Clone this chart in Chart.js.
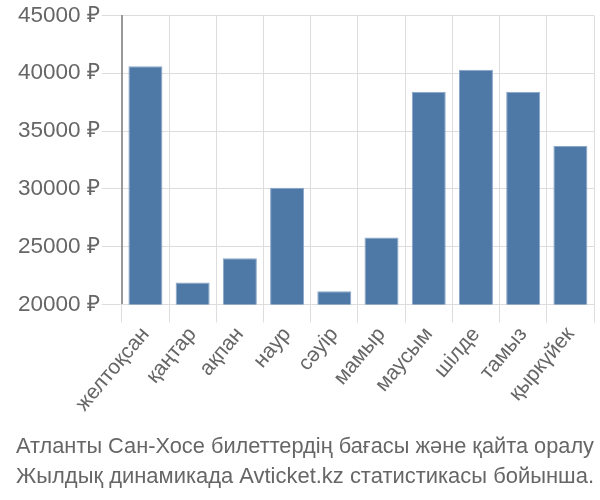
<!DOCTYPE html>
<html>
<head>
<meta charset="utf-8">
<script src="https://cdn.jsdelivr.net/npm/chart.js@4"></script>
<style>
  html, body { margin:0; padding:0; background:#fff; }
  #wrap { width:600px; height:500px; position:relative; }
</style>
</head>
<body>
<div id="wrap"><canvas id="chart"></canvas></div>
<script>
// months (Kazakh)
const months = ['желтоқсан','қаңтар','ақпан','наур','сәуір','мамыр','маусым','шілде','тамыз','қыркүйек'];
// prices in ₽
const prices = [40600, 21900, 24000, 30100, 21150, 25800, 38400, 40300, 38400, 33700];
const titleLines = [
    'Атланты Сан-Хосе билеттердің бағасы және қайта оралу',
    'Жылдық динамикада Avticket.kz статистикасы бойынша.'
];

const fontFamily = '"Liberation Sans", Arial, sans-serif';
const textColor = '#666';
const gridColor = '#ddd';

new Chart(document.getElementById('chart'), {
    type:'bar',
    data:{
        labels: months,
        datasets:[{
            data: prices,
            backgroundColor:'#4e79a7',
            borderColor:'#8aa6c8',
            borderWidth:{top:1, left:1, right:1, bottom:0},
            categoryPercentage:0.9,
            barPercentage:0.8
        }]
    },
    options:{
        responsive:true,
        maintainAspectRatio:false,
        animation:false,
        layout:{ padding:{ top:6, right:6, left:16, bottom:0 } },
        scales:{
            y:{
                min:20000,
                max:45000,
                ticks:{
                    stepSize:5000,
                    color:textColor,
                    font:{ family:fontFamily, size:22.5 },
                    padding:2,
                    callback: v => v + ' ₽'
                },
                grid:{ color:gridColor, lineWidth:1, tickLength:20 },
                border:{ color:'#999', width:2 }
            },
            x:{
                ticks:{
                    color:textColor,
                    font:{ family:fontFamily, size:21 },
                    minRotation:50,
                    maxRotation:50,
                    padding:0
                },
                grid:{ color:gridColor, lineWidth:1, tickLength:18 },
                border:{ color:gridColor }
            }
        },
        plugins:{
            legend:{ display:false },
            tooltip:{ enabled:false },
            title:{
                display:true,
                position:'bottom',
                text: titleLines,
                color:textColor,
                font:{ family:fontFamily, size:22.5, weight:'normal', lineHeight:1.35 },
                padding:{ top:15, bottom:8 }
            }
        }
    }
});
</script>
</body>
</html>
